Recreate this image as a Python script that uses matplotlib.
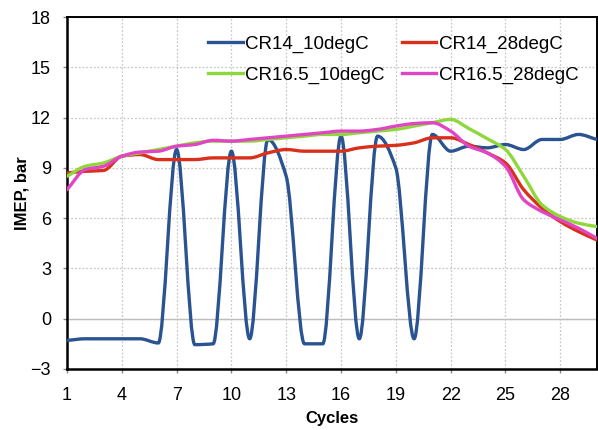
import matplotlib
matplotlib.use("Agg")
import matplotlib.pyplot as plt
import numpy as np
from matplotlib.path import Path
from matplotlib.patches import PathPatch

plt.rcParams["font.family"] = ["Liberation Sans", "DejaVu Sans"]

cycles = list(range(1, 31))

cr14_10 = [-1.3, -1.2, -1.2, -1.2, -1.2, -1.45, 10.1, -1.55, -1.5, 10.0,
           -1.2, 10.7, 8.5, -1.5, -1.5, 10.9, -1.2, 10.9, 9.0, -1.2,
           11.0, 10.0, 10.3, 10.2, 10.4, 10.1, 10.7, 10.7, 11.0, 10.7]
cr14_28 = [8.7, 8.8, 8.85, 9.7, 9.8, 9.5, 9.5, 9.5, 9.6, 9.6,
           9.6, 9.9, 10.1, 10.0, 10.0, 10.0, 10.2, 10.3, 10.35, 10.5,
           10.8, 10.8, 10.4, 9.9, 9.3, 7.7, 6.6, 5.8, 5.2, 4.7]
cr165_10 = [8.5, 9.1, 9.3, 9.7, 9.9, 10.1, 10.3, 10.5, 10.6, 10.6,
            10.6, 10.7, 10.8, 10.9, 11.0, 11.0, 11.1, 11.2, 11.3, 11.5,
            11.7, 11.9, 11.35, 10.75, 10.1, 8.5, 6.8, 6.1, 5.7, 5.5]
cr165_28 = [7.7, 8.9, 9.1, 9.7, 9.95, 10.0, 10.3, 10.4, 10.65, 10.6,
            10.7, 10.8, 10.9, 11.0, 11.1, 11.2, 11.2, 11.3, 11.5, 11.65,
            11.7, 11.2, 10.3, 9.9, 9.1, 7.1, 6.4, 5.9, 5.4, 4.8]

series = [
    ("CR14_10degC", cr14_10, "#2a5391"),
    ("CR14_28degC", cr14_28, "#d9301c"),
    ("CR16.5_10degC", cr165_10, "#8fd83c"),
    ("CR16.5_28degC", cr165_28, "#e046c4"),
]


def smooth_path(x, y):
    # cubic bezier through every point, tangents limited so the curve
    # never swings past its neighbours (monotone cubic)
    x = np.asarray(x, float)
    y = np.asarray(y, float)
    h = np.diff(x)
    d = np.diff(y) / h
    m = np.zeros_like(y)
    m[0], m[-1] = d[0], d[-1]
    for i in range(1, len(y) - 1):
        if d[i - 1] * d[i] > 0:
            w1 = 2 * h[i] + h[i - 1]
            w2 = h[i] + 2 * h[i - 1]
            m[i] = (w1 + w2) / (w1 / d[i - 1] + w2 / d[i])
    verts = [(x[0], y[0])]
    codes = [Path.MOVETO]
    for i in range(len(x) - 1):
        verts += [(x[i] + h[i] / 3, y[i] + m[i] * h[i] / 3),
                  (x[i + 1] - h[i] / 3, y[i + 1] - m[i + 1] * h[i] / 3),
                  (x[i + 1], y[i + 1])]
        codes += [Path.CURVE4] * 3
    return Path(verts, codes)


fig = plt.figure(figsize=(5.98, 4.30), dpi=100)
ax = fig.add_axes([0.112, 0.142, 0.886, 0.818])

handles = {}
for label, vals, color in series:
    ax.add_patch(PathPatch(smooth_path(cycles, vals), fill=False, edgecolor=color,
                           lw=2.4, capstyle="round", joinstyle="round", zorder=3))
    handles[label], = ax.plot([], [], color=color, lw=2.4, label=label)

ax.set_xlim(1, 30)
ax.set_ylim(-3, 18)
ax.set_xticks(range(1, 30, 3))
ax.set_yticks(range(-3, 19, 3))
ax.grid(True, color="#c8c8c8", linestyle=(0, (1.5, 1.5)), lw=0.9)
ax.axhline(0, color="#bdbdbd", lw=1.0, zorder=1)
ax.set_axisbelow(True)

for side in ["left", "bottom"]:
    ax.spines[side].set_linewidth(1.8)
for side in ["top", "right"]:
    ax.spines[side].set_linewidth(1.4)

ax.tick_params(labelsize=13, length=3, width=1, color="#888888")
ax.tick_params(axis="x", pad=10)
ax.tick_params(axis="y", pad=8.5)
ax.set_xlabel("Cycles", fontsize=12, fontweight="bold", labelpad=5)
ax.set_ylabel("IMEP, bar", fontsize=12, fontweight="bold", labelpad=1)

# two columns, filled row by row
order = ["CR14_10degC", "CR16.5_10degC", "CR14_28degC", "CR16.5_28degC"]
ax.legend([handles[k] for k in order], order, ncol=2, loc="upper left",
          bbox_to_anchor=(0.266, 0.948), frameon=False, fontsize=13.5,
          handlelength=1.85, handletextpad=0.15, columnspacing=0.9,
          labelspacing=0.72, borderpad=0, borderaxespad=0)

fig.savefig("out.png", dpi=100)
